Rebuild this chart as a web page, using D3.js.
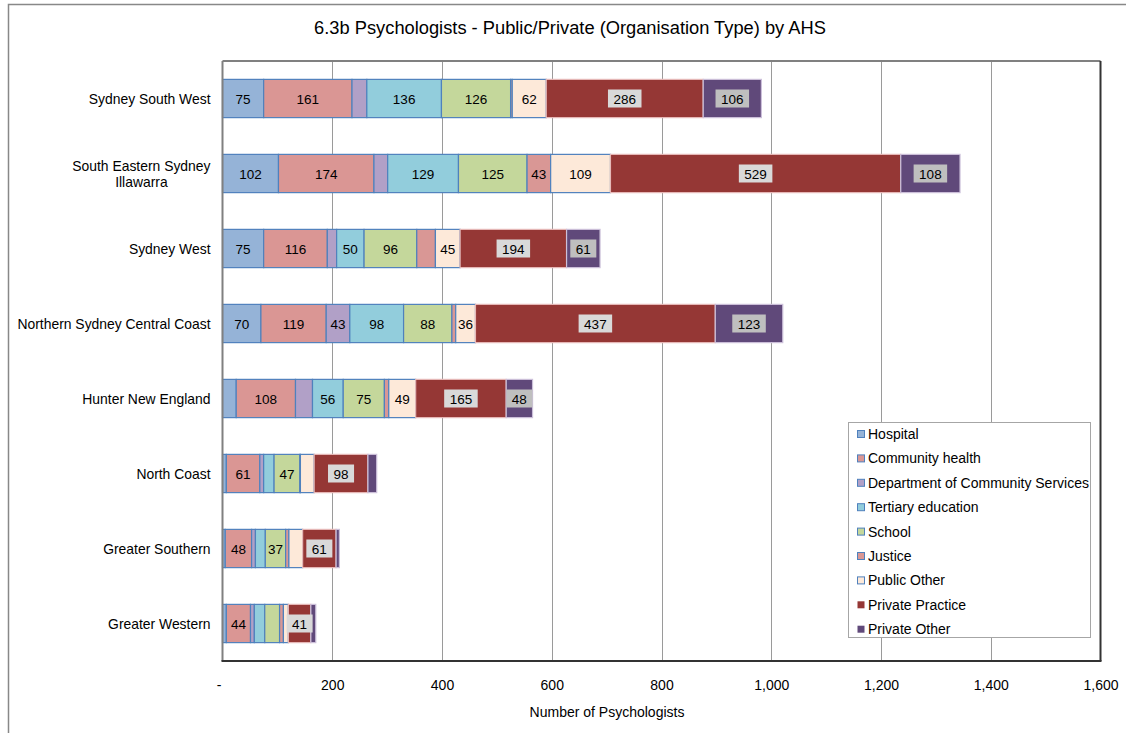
<!DOCTYPE html>
<html>
<head>
<meta charset="utf-8">
<script src="https://cdnjs.cloudflare.com/ajax/libs/d3/7.8.5/d3.min.js"></script>
<style>
  body { margin: 0; background: #fff; }
  text { font-family: "Liberation Sans", Arial, sans-serif; }
</style>
</head>
<body>
<svg id="chart" width="1126" height="733"></svg>
<script>
var categories = ["Sydney South West", "South Eastern Sydney\nIllawarra", "Sydney West",
  "Northern Sydney Central Coast", "Hunter New England", "North Coast",
  "Greater Southern", "Greater Western"];

var seriesNames = ["Hospital", "Community health", "Department of Community Services",
  "Tertiary education", "School", "Justice", "Public Other", "Private Practice", "Private Other"];

var hospital        = [75, 102, 75, 70, 25, 7, 5, 7];
var communityHealth = [161, 174, 116, 119, 108, 61, 48, 44];
var docs            = [27, 25, 17, 43, 31, 7, 7, 7];
var tertiary        = [136, 129, 50, 98, 56, 19, 18, 19];
var school          = [126, 125, 96, 88, 75, 47, 37, 27];
var justice         = [3, 43, 34, 7, 8, 1, 6, 7];
var publicOther     = [62, 109, 45, 36, 49, 25, 25, 9];
var privatePractice = [286, 529, 194, 437, 165, 98, 61, 41];
var privateOther    = [106, 108, 61, 123, 48, 16, 6, 9];

var xTicks = [0, 200, 400, 600, 800, 1000, 1200, 1400, 1600];

var seriesValues = [hospital, communityHealth, docs, tertiary, school, justice,
  publicOther, privatePractice, privateOther];

var fills   = ["#95b3d7", "#da9694", "#b1a0c7", "#92cddc", "#c4d79b", "#d99795", "#fde9d9", "#953735", "#60497a"];
var strokes = ["#4f81bd", "#4f81bd", "#4f81bd", "#4f81bd", "#4f81bd", "#4f81bd", "#4f81bd", "#e6b9b8", "#ccc0da"];

var svg = d3.select("#chart");

// outer chart frame
svg.append("rect")
  .attr("x", 8.5).attr("y", 4.5)
  .attr("width", 1130).attr("height", 740)
  .style("fill", "#fff").style("stroke", "#888").style("stroke-width", "1.5px");

svg.append("text")
  .attr("x", 570).attr("y", 33.5)
  .attr("text-anchor", "middle")
  .style("font-size", "18.3px")
  .text("6.3b Psychologists - Public/Private (Organisation Type) by AHS");

var plot = { left: 222.5, top: 61, right: 1100.5, bottom: 661 };

var x = d3.scaleLinear().domain([0, 1600]).range([plot.left, plot.right]);
var y = d3.scaleBand().domain(categories).range([plot.top, plot.bottom]).paddingInner(0.49).paddingOuter(0.245);

// gridlines
svg.append("g").selectAll("line")
  .data(xTicks.slice(1, -1))
  .enter().append("line")
  .attr("x1", function(d) { return Math.round(x(d)) + 0.5; })
  .attr("x2", function(d) { return Math.round(x(d)) + 0.5; })
  .attr("y1", plot.top).attr("y2", plot.bottom)
  .style("stroke", "#9a9a9a").style("stroke-width", "1px");

// stacked bars
var rows = categories.map(function(c, i) {
  var acc = 0;
  return seriesValues.map(function(vals, s) {
    var seg = { cat: c, s: s, v: vals[i], x0: acc, x1: acc + vals[i] };
    acc += vals[i];
    return seg;
  });
});
var segs = [].concat.apply([], rows);

svg.append("g").selectAll("rect")
  .data(segs)
  .enter().append("rect")
  .attr("x", function(d) { return x(d.x0); })
  .attr("y", function(d) { return y(d.cat); })
  .attr("width", function(d) { return x(d.x1) - x(d.x0); })
  .attr("height", y.bandwidth())
  .style("fill", function(d) { return fills[d.s]; })
  .style("stroke", function(d) { return strokes[d.s]; })
  .style("stroke-width", "1.2px");

// data labels (only for segments wide enough)
var labelled = segs.filter(function(d) { return d.v >= 35; });
var lg = svg.append("g");
labelled.forEach(function(d) {
  var cx = (x(d.x0) + x(d.x1)) / 2, cy = y(d.cat) + y.bandwidth() / 2;
  var t = lg.append("text")
    .attr("x", cx).attr("y", cy + 5)
    .attr("text-anchor", "middle")
    .style("font-size", "13.5px")
    .text(d.v);
  if (d.s >= 7) {
    var w = t.node().getComputedTextLength() + 11;
    lg.insert("rect", function() { return t.node(); })
      .attr("x", cx - w / 2).attr("y", cy - 9)
      .attr("width", w).attr("height", 18)
      .style("fill", d.s === 7 ? "#d9d9d9" : "#bfbfbf");
  }
});

// plot border
svg.append("line").attr("x1", plot.left).attr("x2", plot.right).attr("y1", plot.top).attr("y2", plot.top)
  .style("stroke", "#808080").style("stroke-width", "2px");
svg.append("line").attr("x1", plot.right).attr("x2", plot.right).attr("y1", plot.top).attr("y2", plot.bottom)
  .style("stroke", "#333").style("stroke-width", "2px");
svg.append("line").attr("x1", plot.left).attr("x2", plot.left).attr("y1", plot.top).attr("y2", plot.bottom)
  .style("stroke", "#808080").style("stroke-width", "2px");
svg.append("line").attr("x1", plot.left - 1).attr("x2", plot.right + 1).attr("y1", plot.bottom).attr("y2", plot.bottom)
  .style("stroke", "#333").style("stroke-width", "2px");

// x axis labels
var fmt = d3.format(",");
var xAxis = d3.axisBottom(x).tickValues(xTicks).tickSize(0).tickPadding(0)
  .tickFormat(function(d) { return d === 0 ? "-" : fmt(d); });
var xg = svg.append("g").attr("transform", "translate(0," + 680 + ")").call(xAxis);
xg.select(".domain").remove();
xg.selectAll("text").style("font-size", "14px").style("fill", "#000").style("font-family", "Liberation Sans, Arial, sans-serif");
xg.select(".tick text").attr("dx", -4);

svg.append("text")
  .attr("x", 607).attr("y", 717)
  .attr("text-anchor", "middle")
  .style("font-size", "14px")
  .text("Number of Psychologists");

// y axis labels (multi-line centred, right edge at 210)
categories.forEach(function(c) {
  var lines = c.split("\n");
  var cy = y(c) + y.bandwidth() / 2;
  var g = svg.append("g");
  var texts = lines.map(function(l, i) {
    return g.append("text")
      .attr("y", cy + 5 + (i - (lines.length - 1) / 2) * 16)
      .style("font-size", "13.9px")
      .text(l);
  });
  var maxW = d3.max(texts, function(t) { return t.node().getComputedTextLength(); });
  texts.forEach(function(t) {
    t.attr("x", 210.5 - maxW / 2).attr("text-anchor", "middle");
  });
});

// legend
var legend = svg.append("g");
legend.append("rect")
  .attr("x", 848.5).attr("y", 422.5).attr("width", 242).attr("height", 215)
  .style("fill", "#fff").style("stroke", "#a6a6a6").style("stroke-width", "1px");
seriesNames.forEach(function(n, i) {
  var ly = 434 + i * 24.4;
  legend.append("rect")
    .attr("x", 857.5).attr("y", ly - 3.5).attr("width", 7).attr("height", 7)
    .style("fill", fills[i]).style("stroke", i < 7 ? strokes[i] : "none").style("stroke-width", "1px");
  legend.append("text")
    .attr("x", 868).attr("y", ly + 5)
    .style("font-size", "14px")
    .text(n);
});
</script>
</body>
</html>
